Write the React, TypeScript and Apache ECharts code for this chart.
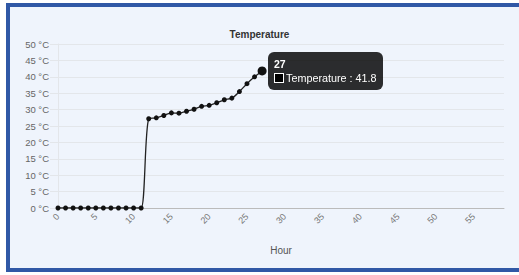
import React, { useEffect, useRef } from "react";
import * as echarts from "echarts";

const hours: string[] = Array.from({ length: 60 }, (_, i) => String(i));
const temperature: number[] = [
  0, 0, 0, 0, 0, 0, 0, 0, 0, 0, 0, 0,
  27.2, 27.5, 28.2, 29.0, 28.9, 29.5, 30.1, 31.0, 31.3, 32.1, 33.0, 33.5,
  35.5, 37.9, 40.0, 41.8,
];
const yTicks: number[] = [0, 5, 10, 15, 20, 25, 30, 35, 40, 45, 50];
const seriesName = "Temperature";
const hoveredIndex = 27;

const FONT = "'Liberation Sans', Arial, sans-serif";

export default function App() {
  const ref = useRef<HTMLDivElement>(null);

  useEffect(() => {
    if (!ref.current) return;
    const chart = echarts.init(ref.current, undefined, { renderer: "svg" });
    chart.setOption({
      animation: false,
      title: {
        text: "Temperature",
        left: "center",
        top: 24,
        textStyle: { fontSize: 10, fontWeight: "bold", color: "#333", fontFamily: FONT },
      },
      grid: { left: 58, right: 15, top: 44, bottom: 67 },
      tooltip: {
        trigger: "item",
        triggerOn: "none",
        alwaysShowContent: true,
        transitionDuration: 0,
        backgroundColor: "rgba(0,0,0,0.82)",
        borderWidth: 0,
        padding: [5, 6, 5, 6],
        extraCssText: "border-radius:6px;box-shadow:none;",
        position: (pt: number[], _p: any, _d: any, _r: any, size: any) => [
          pt[0] + 6,
          pt[1] - size.contentSize[1] / 2,
        ],
        formatter: (p: any) =>
          `<div style="font-family:${FONT};color:#fff;line-height:14px">` +
          `<div style="font-weight:bold;font-size:10.5px">${p.name}</div>` +
          `<div style="font-size:10.8px;display:flex;align-items:center">` +
          `<span style="display:inline-block;width:8px;height:8px;background:#000;border:1px solid #fff;margin-right:2px"></span>` +
          `${p.seriesName} : ${p.value}</div></div>`,
      },
      xAxis: {
        type: "category",
        data: hours,
        boundaryGap: false,
        name: "Hour",
        nameLocation: "middle",
        nameGap: 37,
        nameTextStyle: { fontSize: 10, color: "#555", fontFamily: FONT },
        axisLine: { lineStyle: { color: "#bbb", width: 1 } },
        axisTick: { show: false },
        axisLabel: {
          interval: 4,
          rotate: 45,
          fontSize: 9,
          color: "#777",
          margin: 7,
          fontFamily: FONT,
        },
        splitLine: { show: false },
      },
      yAxis: {
        type: "value",
        min: yTicks[0],
        max: yTicks[yTicks.length - 1],
        interval: 5,
        axisLine: { show: true, lineStyle: { color: "#e3e6ea" } },
        axisTick: { show: true, length: 8, lineStyle: { color: "#e3e6ea" } },
        axisLabel: {
          formatter: "{value} °C",
          fontSize: 9.5,
          color: "#666",
          margin: 9,
          fontFamily: FONT,
        },
        splitLine: { lineStyle: { color: "#e3e6ea", width: 1 } },
      },
      series: [
        {
          name: seriesName,
          type: "line",
          data: temperature.map((v, i) =>
            i === hoveredIndex ? { value: v, symbolSize: 9 } : v
          ),
          smooth: 0.3,
          showAllSymbol: true,
          symbol: "circle",
          symbolSize: 5,
          itemStyle: { color: "#111" },
          lineStyle: { color: "#222", width: 1.3 },
          emphasis: { disabled: true },
        },
      ],
    });
    const show = () =>
      chart.dispatchAction({ type: "showTip", seriesIndex: 0, dataIndex: hoveredIndex });
    show();
    const t = setTimeout(show, 50);
    return () => {
      clearTimeout(t);
      chart.dispose();
    };
  }, []);

  return (
    <>
      <div
        style={{
          position: "fixed",
          left: 6,
          top: 3,
          width: 540,
          height: 261,
          border: "4px solid #3058a6",
          background: "#eff4fc",
        }}
      />
      <div style={{ position: "fixed", left: 0, top: 0, width: 519, height: 275 }}>
        <div ref={ref} style={{ width: 519, height: 275 }} />
      </div>
    </>
  );
}
